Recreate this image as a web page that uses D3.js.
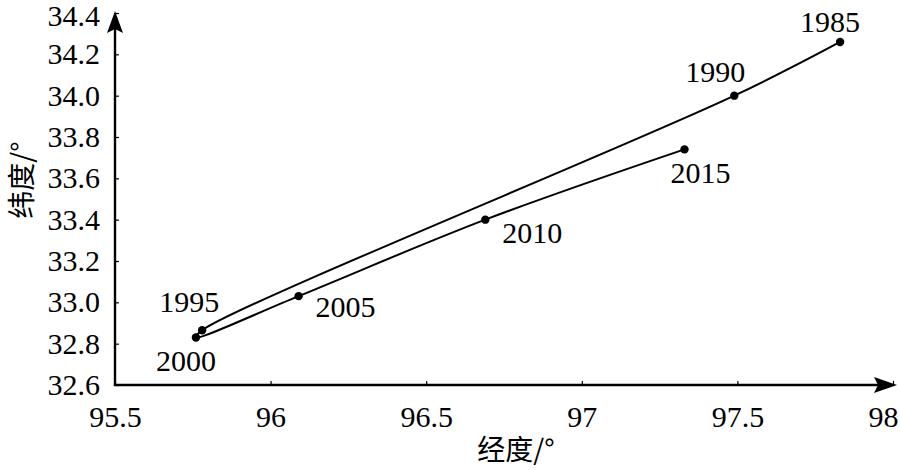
<!DOCTYPE html>
<html><head><meta charset="utf-8">
<script src="https://cdn.jsdelivr.net/npm/d3@7"></script>
<style>
html,body{margin:0;padding:0;background:#fff;}
svg{display:block;}
</style>
</head><body>
<svg id="chart" width="900" height="470"></svg>
<script>
// ---- data ----
const years = ["1985","1990","1995","2000","2005","2010","2015"];
const longitude = [97.83, 97.49, 95.78, 95.76, 96.09, 96.69, 97.33];
const latitude  = [34.26, 34.00, 32.865, 32.83, 33.03, 33.40, 33.74];
const xTicks = [95.5, 96, 96.5, 97, 97.5, 98];
const xTickLabels = ["95.5", "96", "96.5", "97", "97.5", "98"];
const yTicks = [32.6, 32.8, 33.0, 33.2, 33.4, 33.6, 33.8, 34.0, 34.2, 34.4];
const yTickLabels = ["32.6","32.8","33.0","33.2","33.4","33.6","33.8","34.0","34.2","34.4"];
const xTitle = "经度/°";
const yTitle = "纬度/°";

// label placement (styling): offsets in px from each point
const labelOffsets = [[-10,-10],[-19,-14],[-13,-18],[-10,34],[47,21],[47,23],[16,34]];

const points = years.map((y,i)=>({year:y, lon:longitude[i], lat:latitude[i]}));

const svg = d3.select("#chart");
const x = d3.scaleLinear().domain([95.5, 98]).range([115, 893]);
const y = d3.scaleLinear().domain([32.6, 34.4]).range([385, 13]);

const serif = "'Liberation Serif','Times New Roman',serif";

// x axis
const gx = svg.append("g").attr("transform", `translate(0,${y(32.6)})`)
  .call(d3.axisBottom(x).tickValues(xTicks).tickFormat((d,i)=>xTickLabels[i]).tickSize(-4).tickPadding(21));
gx.select(".domain").remove();
gx.selectAll(".tick line").attr("stroke","#000").attr("stroke-width",1.2);
gx.selectAll(".tick text").attr("font-family",serif).attr("font-size",30).attr("fill","#000");
// last label nudged left to stay inside the frame
gx.selectAll(".tick text").filter(d=>d===98).attr("dx",-10);

// y axis
const gy = svg.append("g").attr("transform", `translate(${x(95.5)},0)`)
  .call(d3.axisLeft(y).tickValues(yTicks).tickFormat((d,i)=>yTickLabels[i]).tickSize(-4).tickPadding(15));
gy.select(".domain").remove();
gy.selectAll(".tick line").attr("stroke","#000").attr("stroke-width",1.2);
gy.selectAll(".tick text").attr("font-family",serif).attr("font-size",30).attr("fill","#000");
gy.selectAll(".tick text").filter(d=>d===34.4).attr("dy","0.40em");

// axis lines with arrows
const x0 = x(95.5), y0 = y(32.6);
svg.append("line").attr("x1",x0).attr("y1",y0).attr("x2",x0).attr("y2",22)
  .attr("stroke","#000").attr("stroke-width",2.4);
svg.append("line").attr("x1",x0-1.2).attr("y1",y0).attr("x2",886).attr("y2",y0)
  .attr("stroke","#000").attr("stroke-width",2.4);
svg.append("path").attr("d",`M${x0},11 L${x0+8},33 L${x0},29 L${x0-8},33 Z`).attr("fill","#000");
svg.append("path").attr("d",`M897,${y0} L874,${y0-8} L878,${y0} L874,${y0+8} Z`).attr("fill","#000");

// line
const line = d3.line().x(d=>x(d.lon)).y(d=>y(d.lat)).curve(d3.curveCatmullRom.alpha(0.5));
svg.append("path").datum(points).attr("d",line)
  .attr("fill","none").attr("stroke","#000").attr("stroke-width",2);

// dots
svg.selectAll("circle.pt").data(points).join("circle").attr("class","pt")
  .attr("cx",d=>x(d.lon)).attr("cy",d=>y(d.lat)).attr("r",4.2).attr("fill","#000");

// labels
svg.selectAll("text.yr").data(points).join("text").attr("class","yr")
  .attr("x",(d,i)=>x(d.lon)+labelOffsets[i][0])
  .attr("y",(d,i)=>y(d.lat)+labelOffsets[i][1])
  .attr("text-anchor","middle").attr("font-family",serif).attr("font-size",30).attr("fill","#000")
  .text(d=>d.year);

// titles
svg.append("text").attr("x",516).attr("y",460).attr("text-anchor","middle")
  .attr("font-family","'Noto Sans CJK SC',"+serif).attr("font-size",28).attr("fill","#000").text(xTitle);
svg.append("text").attr("transform","translate(32,180) rotate(-90)").attr("text-anchor","middle")
  .attr("font-family","'Noto Sans CJK SC',"+serif).attr("font-size",28).attr("fill","#000").text(yTitle);
</script>
</body></html>
